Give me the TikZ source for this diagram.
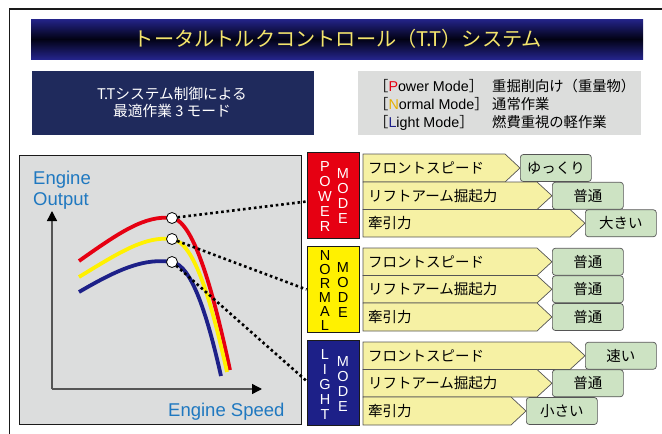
\documentclass[tikz,border=0pt]{standalone}
\usepackage{fontspec}
\setmainfont{Liberation Sans}
\newfontfamily\jp{Noto Sans CJK JP}
\usetikzlibrary{arrows.meta}
\definecolor{framec}{HTML}{1A1A1A}
\definecolor{titletop}{HTML}{24248A}
\definecolor{titlemid}{HTML}{020214}
\definecolor{titletext}{HTML}{F3E46C}
\definecolor{navy}{HTML}{1F2A5C}
\definecolor{grayb}{HTML}{DCDDDC}
\definecolor{panel}{HTML}{DCDDDD}
\definecolor{axisc}{HTML}{555555}
\definecolor{lblue}{HTML}{1F78C0}
\definecolor{pred}{HTML}{E60012}
\definecolor{pyel}{HTML}{FFF100}
\definecolor{pblue}{HTML}{1D2088}
\definecolor{nyel}{HTML}{E6B000}
\definecolor{rowfill}{HTML}{F6F1A4}
\definecolor{rowline}{HTML}{555555}
\definecolor{gfill}{HTML}{CDE3C3}
\newcommand\jfs{\jp\fontsize{14.5}{17}\selectfont}
\newcommand\yrow[6]{%
  \draw[rowbar] (363,#2) -- ({#4-15},#2) -- (#4,{(#2+#3)/2}) -- ({#4-15},#3) -- (363,#3) -- cycle;
  \node[rowtext] (#1) at (368,{(#2+#3)/2+5.4}) {#5};
  \node[gbox] (#1g) at (#4,{(#2+#3)/2}) {#6};
}
\begin{document}
\begin{tikzpicture}[x=1pt,y=-1pt,
  rowbar/.style={draw=rowline, fill=rowfill, line width=0.7pt, line join=miter},
  rowtext/.style={font=\jfs, inner sep=0pt, anchor=base west},
  gbox/.style={draw=rowline, fill=gfill, line width=0.7pt, rounded corners=3pt,
    minimum width=71pt, minimum height=27pt, inner sep=0pt, anchor=west,
    font=\jfs, text height=12.76pt, text depth=1.74pt},
  modebox/.style={draw=framec, line width=0.9pt, minimum width=52pt, minimum height=85.5pt, inner sep=0pt},
  letters/.style={font=\fontsize{14.5}{15}\selectfont, align=center, inner sep=0pt},
  curve/.style={line width=3.8pt},
  dotline/.style={line width=2.6pt, dash pattern=on 2.6pt off 2.9pt},
  circ/.style={circle, draw=black, fill=white, line width=0.8pt, minimum size=11pt, inner sep=0pt},
  axisline/.style={draw=axisc, line width=1.4pt, -{Triangle[length=10pt,width=10pt,fill=black,color=black]}},
  blab/.style={font=\fontsize{18.5}{21}\selectfont, text=lblue, inner sep=0pt, anchor=base west}
]
\useasboundingbox (0,0) rectangle (662,434);
% frame
\draw[framec, line width=1.6pt] (663,9) -- (9.5,9) -- (9.5,435);
% title
\shade[top color=titletop, bottom color=titletop, middle color=titlemid] (31,19) rectangle (643,59);
\node[font=\jp\fontsize{20.2}{24}\selectfont, text=titletext, inner sep=0pt, anchor=base] (title) at (338,46) {トータルトルクコントロール（T.T）システム};
% left box
\fill[navy] (32,71) rectangle (314,135);
\node[font=\jp\fontsize{14.7}{17}\selectfont, text=white, inner sep=0pt, anchor=base] (lb1) at (172,99) {T.Tシステム制御による};
\node[font=\jp\fontsize{14.7}{17}\selectfont, text=white, inner sep=0pt, anchor=base] (lb2) at (172,116.5) {最適作業 3 モード};
% gray box
\fill[grayb] (358,71) rectangle (641,135);
\node[font=\fontsize{14.3}{17}\selectfont, inner sep=0pt, anchor=base west] (m1) at (374,91.3) {{\jp［}\textcolor{pred}{P}ower Mode{\jp］}};
\node[font=\fontsize{14.3}{17}\selectfont, inner sep=0pt, anchor=base west] (m2) at (374,109.3) {{\jp［}\textcolor{nyel}{N}ormal Mode{\jp］}};
\node[font=\fontsize{14.3}{17}\selectfont, inner sep=0pt, anchor=base west] (m3) at (374,127.3) {{\jp［}\textcolor{pblue}{L}ight Mode{\jp］}};
\node[font=\jp\fontsize{14.3}{17}\selectfont, inner sep=0pt, anchor=base west] (d1) at (492,91.3) {重掘削向け（重量物）};
\node[font=\jp\fontsize{14.3}{17}\selectfont, inner sep=0pt, anchor=base west] (d2) at (492,109.3) {通常作業};
\node[font=\jp\fontsize{14.3}{17}\selectfont, inner sep=0pt, anchor=base west] (d3) at (492,127.3) {燃費重視の軽作業};
% graph panel
\draw[fill=panel, draw=framec, line width=1pt] (19,155) rectangle (301,424);
\coordinate (O) at (52,389);
\draw[axisline] (O) -- (52,211);
\draw[axisline] (O) -- (262,389);
\node[blab] (eo1) at (33,184.3) {Engine};
\node[blab] (eo2) at (33,205.7) {Output};
\node[blab] (es) at (168,416) {Engine Speed};
% mode boxes
\node[modebox, fill=pred] (mP) at (333,195.5) {};
\node[modebox, fill=pyel] (mN) at (333,289.5) {};
\node[modebox, fill=pblue] (mL) at (333,383) {};
\node[letters, text=white] (tP1) at (325,196.5) {P\\O\\W\\E\\R};
\node[letters, text=white] (tP2) at (343,196.5) {M\\O\\D\\E};
\node[letters, text=black, font=\fontsize{14.5}{14}\selectfont] (tN1) at (325,290.5) {N\\O\\R\\M\\A\\L};
\node[letters, text=black] (tN2) at (343,290.5) {M\\O\\D\\E};
\node[letters, text=white] (tL1) at (325,384.5) {L\\I\\G\\H\\T};
\node[letters, text=white] (tL2) at (343,384) {M\\O\\D\\E};
% rows
\yrow{p1}{154}{182}{520}{フロントスピード}{ゆっくり}
\yrow{p2}{182}{209.5}{552}{リフトアーム掘起力}{普通}
\yrow{p3}{209.5}{237}{585}{牽引力}{大きい}
\yrow{n1}{248}{275.5}{552}{フロントスピード}{普通}
\yrow{n2}{275.5}{303}{552}{リフトアーム掘起力}{普通}
\yrow{n3}{303}{331}{552}{牽引力}{普通}
\yrow{l1}{342}{369.5}{585}{フロントスピード}{速い}
\yrow{l2}{369.5}{397}{552}{リフトアーム掘起力}{普通}
\yrow{l3}{397}{425}{526}{牽引力}{小さい}
% curves
\coordinate (pR) at (172,218);
\coordinate (pN) at (172,239);
\coordinate (pL) at (172,262);
\draw[curve, pred] (79,261) .. controls (120,232) and (145,215) .. (pR) .. controls (195,221) and (215,300) .. (230,370);
\draw[curve, pyel] (79,277) .. controls (120,252) and (145,236) .. (pN) .. controls (195,242) and (212,305) .. (227,372);
\draw[curve, pblue] (79,292) .. controls (120,268) and (145,258) .. (pL) .. controls (192,265) and (208,318) .. (221,376);
% dotted connectors
\draw[dotline] (pR) -- ([yshift=-6pt]mP.west);
\draw[dotline] (pN) -- (mN.west);
\draw[dotline] (pL) -- ([yshift=2pt]mL.west);
\node[circ] (cR) at (pR) {};
\node[circ] (cN) at (pN) {};
\node[circ] (cL) at (pL) {};
\end{tikzpicture}
\end{document}
